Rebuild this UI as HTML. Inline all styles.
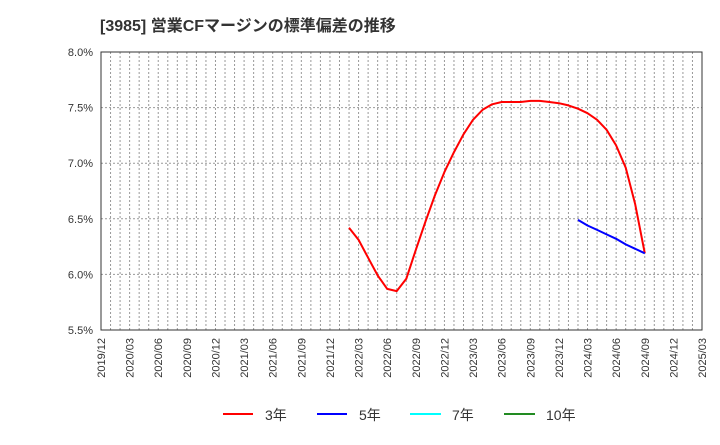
<!DOCTYPE html>
<html><head><meta charset="utf-8"><style>
body{margin:0;background:#fff;}
svg text{font-family:"Liberation Sans","Noto Sans CJK JP",sans-serif;}
</style></head><body>
<svg id="c" width="720" height="440" xmlns="http://www.w3.org/2000/svg">
<text x="100" y="31" font-size="16" font-weight="bold" fill="#333">[3985]  営業CFマージンの標準偏差の推移</text>
<g id="grid"></g>
<g id="axes"></g>
<g id="series"></g>
<g>
<g><line x1="223" y1="414" x2="253" y2="414" stroke="#ff0000" stroke-width="2"/><text x="265" y="420" font-size="14" fill="#333">3年</text></g>
<g><line x1="317" y1="414" x2="347" y2="414" stroke="#0000ff" stroke-width="2"/><text x="359" y="420" font-size="14" fill="#333">5年</text></g>
<g><line x1="410" y1="414" x2="441" y2="414" stroke="#00ffff" stroke-width="2"/><text x="452" y="420" font-size="14" fill="#333">7年</text></g>
<g><line x1="504" y1="414" x2="535" y2="414" stroke="#228b22" stroke-width="2"/><text x="546" y="420" font-size="14" fill="#333">10年</text></g>
</g>
</svg>
<script>
const xTickLabels=["2019/12","2020/03","2020/06","2020/09","2020/12","2021/03","2021/06","2021/09","2021/12","2022/03","2022/06","2022/09","2022/12","2023/03","2023/06","2023/09","2023/12","2024/03","2024/06","2024/09","2024/12","2025/03"];
const yTicks=[5.5,6.0,6.5,7.0,7.5,8.0];
const red3Start=26; // months after 2019/12 (2022/02)
const red3=[6.42,6.31,6.15,5.99,5.87,5.85,5.96,6.22,6.47,6.71,6.92,7.10,7.26,7.39,7.48,7.53,7.55,7.55,7.55,7.56,7.56,7.55,7.54,7.52,7.49,7.45,7.39,7.30,7.16,6.96,6.63,6.19];
const blue5Start=50; // 2024/02
const blue5=[6.49,6.44,6.40,6.36,6.32,6.27,6.23,6.19];

const L=101,R=702,T=52,B=330,NM=63;
const ns="http://www.w3.org/2000/svg";
const xS=m=>L+(R-L)*m/NM;
const yS=v=>B-(v-5.5)/2.5*(B-T);
function mk(tag,attrs,parent){const e=document.createElementNS(ns,tag);for(const k in attrs)e.setAttribute(k,attrs[k]);parent.appendChild(e);return e;}
const grid=document.getElementById('grid'),axes=document.getElementById('axes'),ser=document.getElementById('series');
for(let m=1;m<NM;m++){
  const l=mk('line',{x1:xS(m),x2:xS(m),y1:T,y2:B,stroke:'#999','stroke-dasharray':'2,2','stroke-width':1},grid);
  
  
}
yTicks.forEach(v=>{
  if(v>5.5&&v<8.0){const l=mk('line',{x1:L,x2:R,y1:yS(v),y2:yS(v),stroke:'#999','stroke-dasharray':'2,2'},grid);
  
  }
  const t=mk('text',{x:L-8,y:yS(v)+4,'font-size':11,fill:'#333','text-anchor':'end'},axes);
  t.textContent=v.toFixed(1)+'%';
  
  
});
const fr=mk('rect',{x:L,y:T,width:R-L,height:B-T,fill:'none',stroke:'#333','stroke-width':1},axes);


xTickLabels.forEach((s,i)=>{
  const x=xS(i*3);
  const t=mk('text',{x:x+4,y:B+8,'font-size':11,fill:'#333','text-anchor':'end',transform:`rotate(-90 ${x+4} ${B+8})`},axes);
  t.textContent=s;
  
  
});
function line(arr,start,color,name){
  const pts=arr.map((v,i)=>xS(start+i).toFixed(1)+','+yS(v).toFixed(1)).join(' ');
  const p=mk('polyline',{points:pts,fill:'none',stroke:color,'stroke-width':2,'stroke-linejoin':'round'},ser);
  
  
}
line(red3,red3Start,'#ff0000','series-3y');
line(blue5,blue5Start,'#0000ff','series-5y');
</script>
</body></html>
